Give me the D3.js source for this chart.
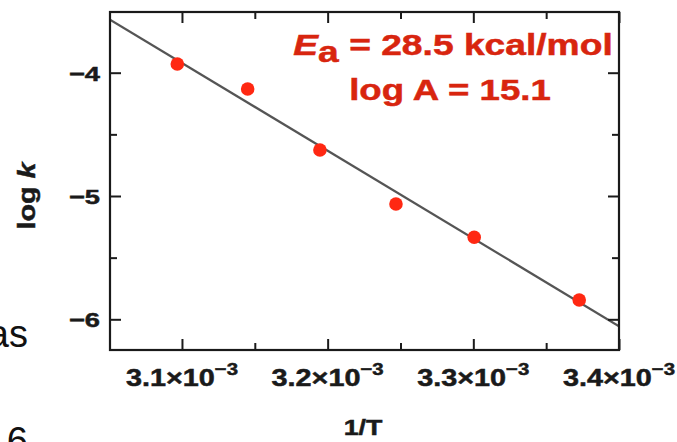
<!DOCTYPE html>
<html>
<head>
<meta charset="utf-8">
<script src="https://cdn.jsdelivr.net/npm/d3@7"></script>
<style>
  html, body { margin: 0; padding: 0; background: #fff; }
  svg { display: block; }
  text { font-family: "Liberation Sans", Arial, Helvetica, sans-serif; }
</style>
</head>
<body>
<svg id="chart" width="677" height="442"></svg>
<script>
// Arrhenius data: inverse temperature (1/K) and log of rate constant
const invT = [3.0968e-3, 3.1451e-3, 3.1947e-3, 3.2469e-3, 3.3006e-3, 3.3727e-3];
const logK = [-3.929, -4.132, -4.627, -5.065, -5.335, -5.843];

// Least-squares line, given by its two ends across the plotted range
const fitX = [3.0506e-3, 3.4e-3];
const fitY = [-3.570, -6.056];

// Axis ticks
const xMajor = [3.1e-3, 3.2e-3, 3.3e-3, 3.4e-3];
const xMajorMantissa = ["3.1", "3.2", "3.3", "3.4"];
const xMinor = [3.15e-3, 3.25e-3, 3.35e-3];
const yMajor = [-4, -5, -6];
const yMajorLabels = ["\u22124", "\u22125", "\u22126"];
const yMinor = [-4.5, -5.5];

// Annotation text
const eaValue = "28.5";
const logAValue = "15.1";

const svg = d3.select("#chart");
const box = { left: 110, right: 619, top: 12, bottom: 350 };

const x = d3.scaleLinear().domain([3.0506e-3, 3.4e-3]).range([box.left, box.right]);
const y = d3.scaleLinear().domain([-6.249, -3.5077]).range([box.bottom, box.top]);

const ink = "#1a1a1a";

// text helper: places a heavy label at (px, py), widened horizontally
function label(g, px, py, anchor, size, sx, rot, color) {
  const c = color || ink;
  return g.append("text")
    .attr("transform", `translate(${px},${py})` + (rot ? ` rotate(${rot})` : "") + ` scale(${sx},1)`)
    .attr("text-anchor", anchor)
    .attr("font-size", size)
    .attr("font-weight", "bold")
    .attr("fill", c)
    .attr("stroke", c)
    .attr("stroke-width", 0.5);
}

// fit line, clipped to the frame
svg.append("clipPath").attr("id", "frame")
  .append("rect").attr("x", box.left).attr("y", box.top)
  .attr("width", box.right - box.left).attr("height", box.bottom - box.top);

const fitPts = fitX.map((v, i) => [v, fitY[i]]);
svg.append("path")
  .attr("clip-path", "url(#frame)")
  .attr("d", d3.line().x(d => x(d[0])).y(d => y(d[1]))(fitPts))
  .attr("fill", "none")
  .attr("stroke", "#555")
  .attr("stroke-width", 2.2);

// data points
svg.append("g").selectAll("circle")
  .data(invT.map((v, i) => [v, logK[i]]))
  .join("circle")
  .attr("cx", d => x(d[0]))
  .attr("cy", d => y(d[1]))
  .attr("r", 6.8)
  .attr("fill", "#ff2812");

// axes with inward ticks on all four sides
const bottomAxis = d3.axisBottom(x).tickValues(xMajor).tickSize(-11).tickFormat("");
const bottomMinor = d3.axisBottom(x).tickValues(xMinor).tickSize(-7).tickFormat("");
const topAxis = d3.axisTop(x).tickValues(xMajor).tickSize(-11).tickFormat("");
const topMinor = d3.axisTop(x).tickValues(xMinor).tickSize(-7).tickFormat("");
const leftAxis = d3.axisLeft(y).tickValues(yMajor).tickSize(-11).tickFormat("");
const leftMinor = d3.axisLeft(y).tickValues(yMinor).tickSize(-7).tickFormat("");
const rightAxis = d3.axisRight(y).tickValues(yMajor).tickSize(-11).tickFormat("");
const rightMinor = d3.axisRight(y).tickValues(yMinor).tickSize(-7).tickFormat("");

function styleAxis(g) {
  g.select(".domain").remove();
  g.selectAll(".tick line").attr("stroke", ink).attr("stroke-width", 2);
}
svg.append("g").attr("transform", `translate(0,${box.bottom})`).call(bottomAxis).call(styleAxis);
svg.append("g").attr("transform", `translate(0,${box.bottom})`).call(bottomMinor).call(styleAxis);
svg.append("g").attr("transform", `translate(0,${box.top})`).call(topAxis).call(styleAxis);
svg.append("g").attr("transform", `translate(0,${box.top})`).call(topMinor).call(styleAxis);
svg.append("g").attr("transform", `translate(${box.left},0)`).call(leftAxis).call(styleAxis);
svg.append("g").attr("transform", `translate(${box.left},0)`).call(leftMinor).call(styleAxis);
svg.append("g").attr("transform", `translate(${box.right},0)`).call(rightAxis).call(styleAxis);
svg.append("g").attr("transform", `translate(${box.right},0)`).call(rightMinor).call(styleAxis);

// frame
svg.append("rect")
  .attr("x", box.left).attr("y", box.top)
  .attr("width", box.right - box.left).attr("height", box.bottom - box.top)
  .attr("fill", "none").attr("stroke", ink).attr("stroke-width", 2.2);

// tick labels
const labels = svg.append("g");
yMajor.forEach((v, i) => {
  label(labels, 100, y(v) + 8, "end", 21, 1.3).text(yMajorLabels[i]);
});
xMajor.forEach((v, i) => {
  const t = label(labels, x(v), 386, "middle", 24, 1.2);
  t.append("tspan").text(xMajorMantissa[i] + "\u00d710");
  t.append("tspan").attr("font-size", 17).attr("dy", -11).text("\u22123");
});

// axis titles
label(labels, 363, 435, "middle", 22, 1.22).text("1/T");
const yt = label(labels, 35, 196, "middle", 24, 1.2, -90);
yt.append("tspan").text("log ");
yt.append("tspan").attr("font-style", "italic").text("k");

// annotation
const red = "#d8250f";
const a1 = label(labels, 453, 55, "middle", 30, 1.24, 0, red);
a1.append("tspan").attr("font-style", "italic").text("E");
a1.append("tspan").attr("dy", 7).text("a");
a1.append("tspan").attr("dy", -7).text(" = " + eaValue + " kcal/mol");
label(labels, 450, 100, "middle", 30, 1.22, 0, red).text("log A = " + logAValue);

// neighbouring page text at the left margin
const side = svg.append("g").attr("font-family", "Liberation Sans, Arial, sans-serif");
side.append("text").attr("x", 28).attr("y", 347).attr("text-anchor", "end")
  .attr("font-size", 38).attr("fill", "#111").text("as");
side.append("text").attr("x", 28).attr("y", 454).attr("text-anchor", "end")
  .attr("font-size", 38).attr("fill", "#111").text("6");
</script>
</body>
</html>
